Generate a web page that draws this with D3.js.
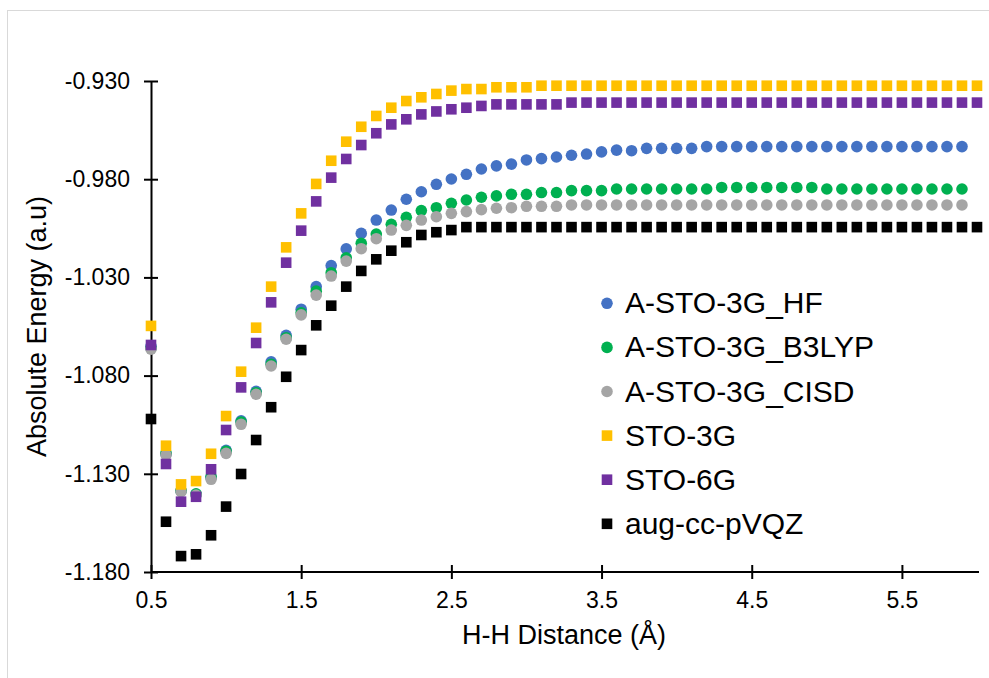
<!DOCTYPE html>
<html>
<head>
<meta charset="utf-8">
<script src="https://cdn.jsdelivr.net/npm/d3@7"></script>
<style>
  body { margin: 0; background: #fff; }
  svg { display: block; font-family: "Liberation Sans", Arial, sans-serif; }
</style>
</head>
<body>
<div id="chart-area"></div>
<script>
// H-H distances (Å); the circle series stop at 5.9
let distance = [0.5, 0.6, 0.7, 0.8, 0.9, 1.0, 1.1, 1.2, 1.3, 1.4, 1.5, 1.6, 1.7, 1.8, 1.9, 2.0,
                2.1, 2.2, 2.3, 2.4, 2.5, 2.6, 2.7, 2.8, 2.9, 3.0, 3.1, 3.2, 3.3, 3.4, 3.5, 3.6,
                3.7, 3.8, 3.9, 4.0, 4.1, 4.2, 4.3, 4.4, 4.5, 4.6, 4.7, 4.8, 4.9, 5.0, 5.1, 5.2,
                5.3, 5.4, 5.5, 5.6, 5.7, 5.8, 5.9, 6.0];

let aStoHF = [-1.0650, -1.1200, -1.1387, -1.1405, -1.1318, -1.1180, -1.1030, -1.0880, -1.0730, -1.0595,
              -1.0462, -1.0347, -1.0240, -1.0155, -1.0076, -1.0008, -0.9957, -0.9902, -0.9864, -0.9826,
              -0.9799, -0.9775, -0.9748, -0.9732, -0.9723, -0.9702, -0.9695, -0.9687, -0.9678, -0.9672,
              -0.9661, -0.9652, -0.9655, -0.9643, -0.9643, -0.9643, -0.9643, -0.9634, -0.9634, -0.9634,
              -0.9634, -0.9634, -0.9634, -0.9634, -0.9634, -0.9634, -0.9634, -0.9634, -0.9634, -0.9634,
              -0.9634, -0.9634, -0.9634, -0.9634, -0.9634];

let aStoB3LYP = [-1.0660, -1.1195, -1.1385, -1.1402, -1.1315, -1.1185, -1.1036, -1.0887, -1.0742, -1.0607,
                 -1.0480, -1.0370, -1.0276, -1.0200, -1.0126, -1.0079, -1.0030, -0.9994, -0.9960, -0.9945,
                 -0.9923, -0.9906, -0.9892, -0.9885, -0.9877, -0.9877, -0.9868, -0.9868, -0.9858, -0.9858,
                 -0.9858, -0.9850, -0.9850, -0.9850, -0.9850, -0.9850, -0.9850, -0.9850, -0.9842, -0.9842,
                 -0.9842, -0.9842, -0.9842, -0.9842, -0.9842, -0.9850, -0.9850, -0.9850, -0.9850, -0.9850,
                 -0.9850, -0.9850, -0.9850, -0.9850, -0.9850];

let aStoCISD = [-1.0665, -1.1204, -1.1391, -1.1408, -1.1328, -1.1196, -1.1048, -1.0895, -1.0751, -1.0615,
                -1.0491, -1.0390, -1.0293, -1.0217, -1.0154, -1.0103, -1.0059, -1.0035, -1.0008, -0.9991,
                -0.9974, -0.9965, -0.9955, -0.9948, -0.9945, -0.9938, -0.9938, -0.9938, -0.9931, -0.9931,
                -0.9931, -0.9931, -0.9931, -0.9931, -0.9931, -0.9931, -0.9931, -0.9931, -0.9931, -0.9931,
                -0.9931, -0.9931, -0.9931, -0.9931, -0.9931, -0.9931, -0.9931, -0.9931, -0.9931, -0.9931,
                -0.9931, -0.9931, -0.9931, -0.9931, -0.9931];

let sto3G = [-1.0547, -1.1157, -1.1354, -1.1337, -1.1198, -1.1006, -1.0780, -1.0556, -1.0347, -1.0147,
             -0.9974, -0.9824, -0.9706, -0.9609, -0.9533, -0.9478, -0.9436, -0.9402, -0.9383, -0.9366,
             -0.9349, -0.9341, -0.9341, -0.9332, -0.9332, -0.9332, -0.9324, -0.9324, -0.9324, -0.9324,
             -0.9324, -0.9324, -0.9324, -0.9324, -0.9324, -0.9324, -0.9324, -0.9324, -0.9324, -0.9324,
             -0.9324, -0.9324, -0.9324, -0.9324, -0.9324, -0.9324, -0.9324, -0.9324, -0.9324, -0.9324,
             -0.9324, -0.9324, -0.9324, -0.9324, -0.9324, -0.9324];

let sto6G = [-1.0644, -1.1250, -1.1442, -1.1417, -1.1277, -1.1077, -1.0860, -1.0634, -1.0427, -1.0225,
             -1.0062, -0.9913, -0.9792, -0.9697, -0.9626, -0.9566, -0.9521, -0.9495, -0.9470, -0.9455,
             -0.9444, -0.9436, -0.9427, -0.9419, -0.9419, -0.9419, -0.9419, -0.9419, -0.9410, -0.9410,
             -0.9410, -0.9410, -0.9410, -0.9410, -0.9410, -0.9410, -0.9410, -0.9410, -0.9410, -0.9410,
             -0.9410, -0.9410, -0.9410, -0.9410, -0.9410, -0.9410, -0.9410, -0.9410, -0.9410, -0.9410,
             -0.9410, -0.9410, -0.9410, -0.9410, -0.9410, -0.9410];

let augCcPVQZ = [-1.1021, -1.1544, -1.1719, -1.1710, -1.1613, -1.1467, -1.1301, -1.1128, -1.0961, -1.0806,
                 -1.0670, -1.0544, -1.0444, -1.0347, -1.0267, -1.0208, -1.0164, -1.0121, -1.0084, -1.0070,
                 -1.0059, -1.0044, -1.0044, -1.0044, -1.0044, -1.0044, -1.0044, -1.0044, -1.0044, -1.0044,
                 -1.0044, -1.0044, -1.0044, -1.0044, -1.0044, -1.0044, -1.0044, -1.0044, -1.0044, -1.0044,
                 -1.0044, -1.0044, -1.0044, -1.0044, -1.0044, -1.0044, -1.0044, -1.0044, -1.0044, -1.0044,
                 -1.0044, -1.0044, -1.0044, -1.0044, -1.0044, -1.0044];

let seriesNames = ["A-STO-3G_HF", "A-STO-3G_B3LYP", "A-STO-3G_CISD", "STO-3G", "STO-6G", "aug-cc-pVQZ"];
let seriesValues = [aStoHF, aStoB3LYP, aStoCISD, sto3G, sto6G, augCcPVQZ];
let seriesShapes = ["circle", "circle", "circle", "square", "square", "square"];
let seriesColors = ["#4472C4", "#00B050", "#A5A5A5", "#FFC000", "#7030A0", "#000000"];

let xTicks = [0.5, 1.5, 2.5, 3.5, 4.5, 5.5];
let yTicks = [-1.18, -1.13, -1.08, -1.03, -0.98, -0.93];

const W = 989, H = 678;
const svg = d3.select("#chart-area").append("svg").attr("width", W).attr("height", H);

// chart frame
svg.append("rect").attr("x", 7.5).attr("y", 10.5).attr("width", 1000).attr("height", 700)
   .attr("fill", "#fff").attr("stroke", "#d9d9d9").attr("stroke-width", 1);

const x = d3.scaleLinear().domain([0.5, 6.0]).range([151, 977]);
const y = d3.scaleLinear().domain([-1.18, -0.93]).range([572, 81]);

// plain hyphen instead of d3's unicode minus
const fmt = f => v => d3.format(f)(v).replace("\u2212", "-");

// axes, cross ticks
const xAxis = svg.append("g").attr("transform", `translate(0,${y(-1.18)})`)
  .call(d3.axisBottom(x).tickValues(xTicks).tickFormat(fmt(".1f")).tickSizeInner(7).tickSizeOuter(0).tickPadding(13));
xAxis.select(".domain").attr("d", `M${x(0.5)},0H979`);
const yAxis = svg.append("g").attr("transform", `translate(${x(0.5)},0)`)
  .call(d3.axisLeft(y).tickValues(yTicks).tickFormat(fmt(".3f")).tickSizeInner(7).tickSizeOuter(0).tickPadding(14));
xAxis.selectAll(".tick line").attr("y1", -7);
yAxis.selectAll(".tick line").attr("x1", 7);
[xAxis, yAxis].forEach(a => {
  a.select(".domain").attr("stroke", "#000").attr("stroke-width", 2);
  a.selectAll(".tick line").attr("stroke", "#000").attr("stroke-width", 2);
  a.selectAll(".tick text").attr("fill", "#000").style("font-size", "23px")
   .style("font-family", "'Liberation Sans', Arial, sans-serif");
});

// axis titles
svg.append("text").attr("x", (x(0.5) + x(6.0)) / 2).attr("y", 644).attr("text-anchor", "middle")
   .style("font-size", "27px").text("H-H Distance (Å)");
svg.append("text").attr("transform", `translate(46,${(y(-0.93) + y(-1.18)) / 2}) rotate(-90)`)
   .attr("text-anchor", "middle").style("font-size", "27px").text("Absolute Energy (a.u)");

// markers
const SQ = 10.6, R = 5.8;
seriesValues.forEach((vals, i) => {
  let pts = vals.map((v, k) => ({d: distance[k], e: v}));
  let g = svg.append("g");
  if (seriesShapes[i] === "circle") {
    g.selectAll("circle").data(pts).join("circle")
      .attr("cx", p => x(p.d)).attr("cy", p => y(p.e)).attr("r", R)
      .attr("fill", seriesColors[i]);
  } else {
    g.selectAll("rect").data(pts).join("rect")
      .attr("x", p => x(p.d) - SQ / 2).attr("y", p => y(p.e) - SQ / 2)
      .attr("width", SQ).attr("height", SQ).attr("fill", seriesColors[i]);
  }
});

// legend
const legend = svg.append("g").attr("transform", "translate(607,303.3)");
seriesNames.forEach((name, i) => {
  let row = legend.append("g").attr("transform", `translate(0,${i * 44.1})`);
  if (seriesShapes[i] === "circle") {
    row.append("circle").attr("r", 5.8).attr("fill", seriesColors[i]);
  } else {
    row.append("rect").attr("x", -5.3).attr("y", -5.3).attr("width", 10.6).attr("height", 10.6)
       .attr("fill", seriesColors[i]);
  }
  row.append("text").attr("x", 18).attr("y", 10).style("font-size", "30px").text(name);
});
</script>
</body>
</html>
